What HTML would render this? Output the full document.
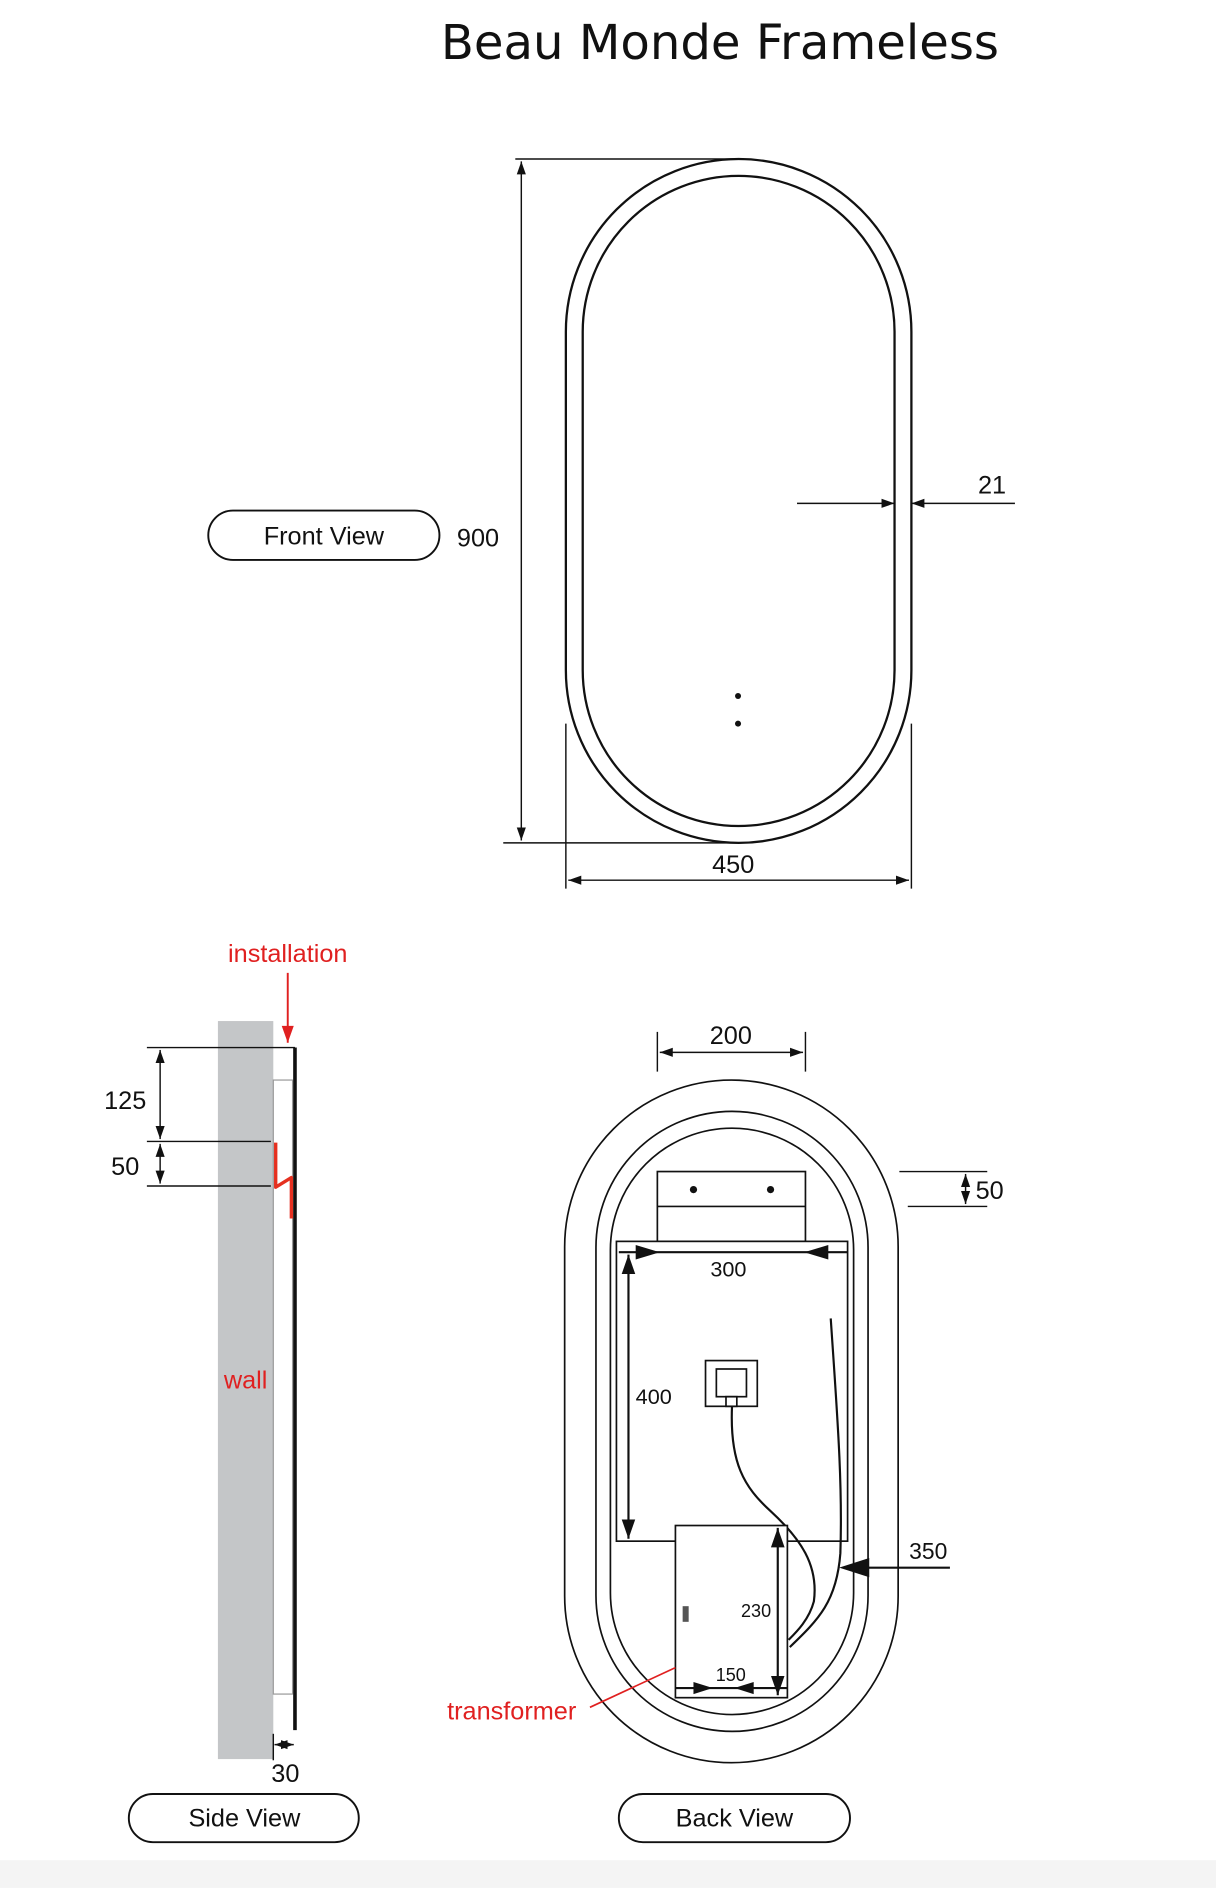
<!DOCTYPE html>
<html><head><meta charset="utf-8"><style>
html,body{margin:0;padding:0;background:#fff;}
svg{display:block;}
text{font-family:"Liberation Sans",sans-serif;fill:#111;}
</style></head><body>
<svg width="1216" height="1888" viewBox="0 0 1010 1568" xmlns="http://www.w3.org/2000/svg">
<defs>
<marker id="a" viewBox="0 0 10 10" refX="10" refY="5" markerWidth="9" markerHeight="9" orient="auto-start-reverse"><path d="M0,1.5 L10,5 L0,8.5z" fill="#111"/></marker>
</defs>
<rect x="0" y="1545" width="1010" height="23" fill="#f4f4f4"/>
<text x="598" y="49" text-anchor="middle" style="font-family:'DejaVu Sans','Liberation Sans',sans-serif" font-size="40">Beau Monde Frameless</text>

<!-- Front view -->
<g fill="none" stroke="#111" stroke-width="1.9">
<rect x="470" y="132" width="287" height="568" rx="143.5"/>
<rect x="484" y="146" width="259" height="540" rx="129.5"/>
</g>
<g stroke="#111" stroke-width="1.2" fill="none">
<line x1="428" y1="132" x2="612" y2="132"/>
<line x1="418" y1="700" x2="612" y2="700"/>
<line x1="433" y1="134" x2="433" y2="698" marker-start="url(#a)" marker-end="url(#a)"/>
<line x1="470" y1="601" x2="470" y2="738"/>
<line x1="757" y1="601" x2="757" y2="738"/>
<line x1="472" y1="731" x2="755" y2="731" marker-start="url(#a)" marker-end="url(#a)"/>
<line x1="662" y1="418" x2="743" y2="418" marker-end="url(#a)"/>
<line x1="843" y1="418" x2="757" y2="418" marker-end="url(#a)"/>
</g>
<circle cx="613" cy="578" r="2.5" fill="#111"/>
<circle cx="613" cy="601" r="2.5" fill="#111"/>
<text x="397" y="454" font-size="21" text-anchor="middle">900</text>
<text x="609" y="725" font-size="21" text-anchor="middle">450</text>
<text x="824" y="410" font-size="21" text-anchor="middle">21</text>
<rect x="173" y="424" width="192" height="41" rx="20.5" fill="none" stroke="#111" stroke-width="1.6"/>
<text x="269" y="452" font-size="21" text-anchor="middle">Front View</text>

<!-- Side view -->
<rect x="181" y="848" width="46" height="613" fill="#c4c6c8"/>
<rect x="227" y="897" width="16" height="510" fill="#fff" stroke="#999" stroke-width="1"/>
<line x1="245" y1="870" x2="245" y2="1437" stroke="#111" stroke-width="3"/>
<path d="M229,949 L229,986 L242,978 L242,1012" fill="none" stroke="#e53020" stroke-width="2.8" stroke-linejoin="round"/>
<g stroke="#111" stroke-width="1.2" fill="none">
<line x1="122" y1="870" x2="245" y2="870"/>
<line x1="122" y1="948" x2="225" y2="948"/>
<line x1="122" y1="985" x2="225" y2="985"/>
<line x1="133" y1="872" x2="133" y2="946" marker-start="url(#a)" marker-end="url(#a)"/>
<line x1="133" y1="950" x2="133" y2="983" marker-start="url(#a)" marker-end="url(#a)"/>
<line x1="227" y1="1440" x2="227" y2="1462"/>
<line x1="228" y1="1449" x2="244" y2="1449" marker-start="url(#a)" marker-end="url(#a)"/>
</g>
<line x1="239" y1="808" x2="239" y2="866" stroke="#e02020" stroke-width="1.6"/>
<path d="M234,852 L239,866 L244,852z" fill="#e02020"/>
<text x="239" y="799" font-size="21" text-anchor="middle" style="fill:#e02020">installation</text>
<text x="204" y="1153" font-size="21" text-anchor="middle" style="fill:#e02020">wall</text>
<text x="104" y="921" font-size="21" text-anchor="middle">125</text>
<text x="104" y="976" font-size="21" text-anchor="middle">50</text>
<text x="237" y="1480" font-size="21" text-anchor="middle">30</text>
<rect x="107" y="1490" width="191" height="40" rx="20" fill="none" stroke="#111" stroke-width="1.6"/>
<text x="203" y="1517" font-size="21" text-anchor="middle">Side View</text>

<!-- Back view -->
<g fill="none" stroke="#111" stroke-width="1.4">
<rect x="469" y="897" width="277" height="567" rx="138.5"/>
<rect x="495" y="923" width="226" height="515" rx="113"/>
<rect x="507" y="937" width="202" height="487" rx="101"/>
<rect x="546" y="973" width="123" height="58" fill="#fff"/>
<line x1="546" y1="1002" x2="669" y2="1002"/>
<rect x="512" y="1031" width="192" height="249" fill="#fff"/>
<rect x="586" y="1130" width="43" height="38"/>
<rect x="595" y="1137" width="25" height="23"/>
<rect x="603" y="1160" width="9" height="8"/>
</g>
<circle cx="576" cy="988" r="3" fill="#111"/>
<circle cx="640" cy="988" r="3" fill="#111"/>
<g stroke="#111" stroke-width="1.8" fill="none">
<line x1="514" y1="1040" x2="704" y2="1040"/>
<path d="M608,1168 C606,1215 618,1235 640,1255 C665,1278 680,1300 676,1330 C672,1345 662,1355 655,1362"/>
<path d="M690,1095 C695,1170 700,1230 698,1290 C695,1330 680,1345 656,1368"/>
<line x1="522" y1="1042" x2="522" y2="1278" marker-start="url(#a)" marker-end="url(#a)"/>
</g>
<path d="M528,1034 L548,1040 L528,1046z" fill="#111"/>
<path d="M688,1034 L668,1040 L688,1046z" fill="#111"/>
<rect x="561" y="1267" width="93" height="143" fill="#fff" stroke="#111" stroke-width="1.4"/>
<rect x="567" y="1334" width="5" height="13" fill="#555"/>
<g stroke="#111" stroke-width="1.8" fill="none">
<line x1="561" y1="1402" x2="654" y2="1402"/>
<line x1="646" y1="1269" x2="646" y2="1408" marker-start="url(#a)" marker-end="url(#a)"/>
<line x1="721" y1="1302" x2="789" y2="1302"/>
</g>
<path d="M576,1397 L592,1402 L576,1407z" fill="#111"/>
<path d="M626,1397 L610,1402 L626,1407z" fill="#111"/>
<path d="M697,1302 L722,1294 L722,1310z" fill="#111"/>
<g stroke="#111" stroke-width="1.2" fill="none">
<line x1="546" y1="857" x2="546" y2="890"/>
<line x1="669" y1="857" x2="669" y2="890"/>
<line x1="548" y1="874" x2="667" y2="874" marker-start="url(#a)" marker-end="url(#a)"/>
<line x1="747" y1="973" x2="820" y2="973"/>
<line x1="754" y1="1002" x2="820" y2="1002"/>
<line x1="802" y1="975" x2="802" y2="1000" marker-start="url(#a)" marker-end="url(#a)"/>
</g>
<line x1="561" y1="1385" x2="490" y2="1418" stroke="#e02020" stroke-width="1.4"/>
<text x="607" y="867" font-size="21" text-anchor="middle">200</text>
<text x="822" y="996" font-size="21" text-anchor="middle">50</text>
<text x="605" y="1060" font-size="18" text-anchor="middle">300</text>
<text x="543" y="1166" font-size="18" text-anchor="middle">400</text>
<text x="628" y="1343" font-size="15" text-anchor="middle">230</text>
<text x="607" y="1396" font-size="15" text-anchor="middle">150</text>
<text x="771" y="1295" font-size="19" text-anchor="middle">350</text>
<text x="425" y="1428" font-size="21" text-anchor="middle" style="fill:#e02020">transformer</text>
<rect x="514" y="1490" width="192" height="40" rx="20" fill="none" stroke="#111" stroke-width="1.6"/>
<text x="610" y="1517" font-size="21" text-anchor="middle">Back View</text>
</svg>
</body></html>
